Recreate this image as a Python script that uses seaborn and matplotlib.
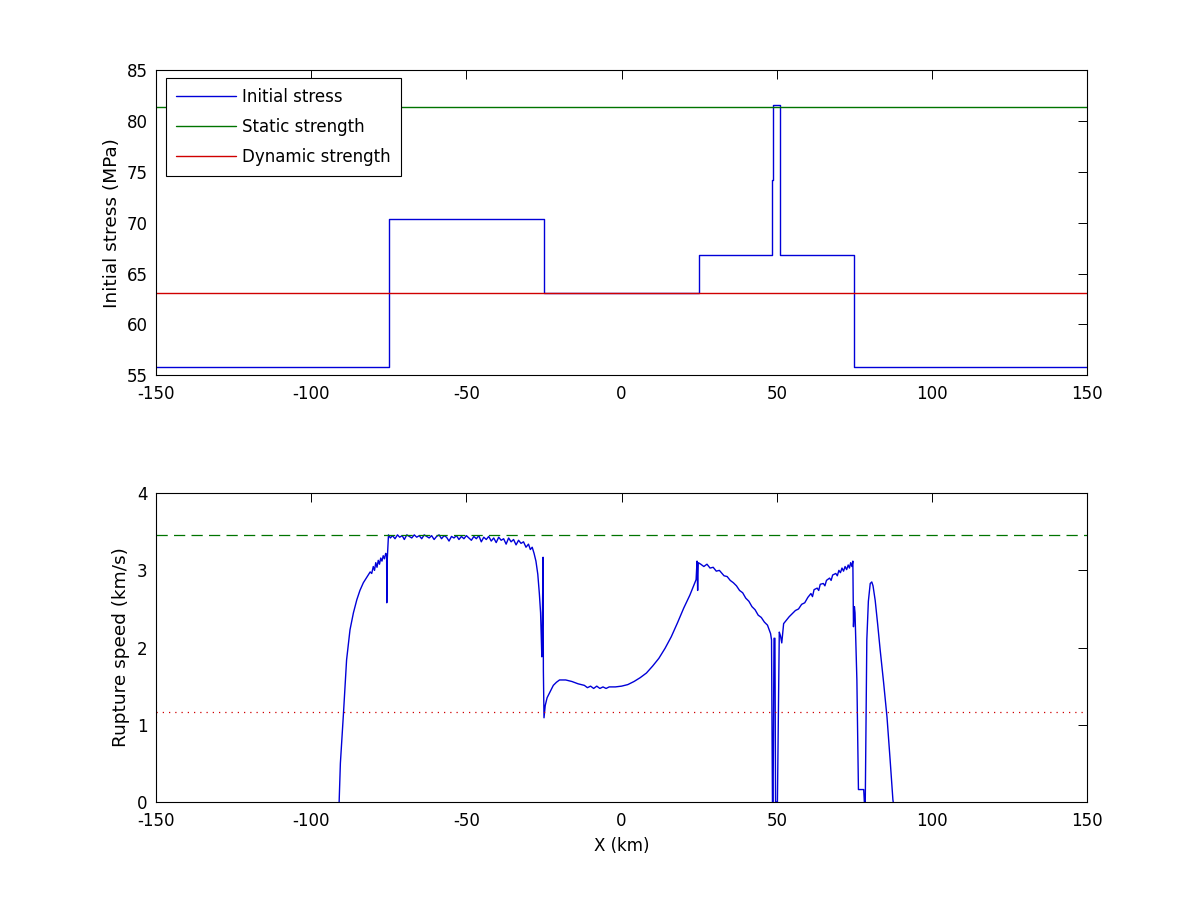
import numpy as np
import pandas as pd
import matplotlib
matplotlib.use("Agg")
import matplotlib.pyplot as plt
import seaborn as sns

# ---------------- data ----------------
# Top panel: initial stress profile along strike (km, MPa)
stress_x = [-150, -75, -75, -25, -25, 25, 25, 48.6, 48.6, 48.9, 48.9, 50.9, 50.9, 75, 75, 150]
stress_y = [55.8, 55.8, 70.4, 70.4, 63.05, 63.05, 66.8, 66.8, 74.2, 74.2, 81.6, 81.6, 66.8, 66.8, 55.8, 55.8]
static_strength = 81.4
dynamic_strength = 63.05
x_limits = [-150, 150]

# Bottom panel: rupture speed (km/s)
speed_x = [-91.0, -90.6, -89.6, -88.6, -87.5, -86.4, -85.3, -84.3, -83.2, -82.1, -81.0,
           -80.5, -80.0, -79.6, -79.2, -78.8, -78.4, -78.0, -77.6, -77.2, -76.8, -76.4, -76.0,
           -75.7, -75.65, -75.55, -75.1,
           -74.5, -73.8, -73.0, -72.2, -71.5, -70.7, -70.0, -69.2, -68.4, -67.6, -66.8, -66.0,
           -65.2, -64.4, -63.6, -62.8, -62.0, -61.2, -60.4, -59.6, -58.8, -58.0, -57.2, -56.4,
           -55.6, -54.8, -54.0, -53.2, -52.4, -51.6, -50.8, -50.0, -49.2, -48.4, -47.6, -46.8,
           -46.0, -45.2, -44.4, -43.6, -42.8, -42.0, -41.2, -40.4, -39.6, -38.8, -38.0, -37.2,
           -36.4, -35.6, -34.8, -34.0, -33.2, -32.4, -31.6, -30.8, -30.0, -29.4, -28.8, -28.2,
           -27.6, -27.0, -26.5, -26.1, -25.8, -25.7, -25.6, -25.3, -25.2, -25.0,
           -24.6, -24.0, -23.0, -22.0, -21.0, -20.0, -18.0, -16.0, -14.0, -12.0, -11.0, -10.0,
           -9.0, -8.0, -7.0, -6.0, -5.0, -4.0, -2.0, 0.0, 2.0, 4.0, 6.0, 8.0, 10.0, 12.0, 14.0,
           16.0, 18.0, 20.0, 22.0, 23.0, 24.0, 24.3, 24.5, 24.7, 25.5, 26.5, 27.5, 28.5, 29.5,
           30.5, 31.5, 33.0, 34.0, 35.0, 36.0, 37.0, 38.0, 39.0, 40.0, 41.0, 42.0, 43.0, 44.0,
           45.0, 46.0, 47.0, 48.0, 48.3, 48.6, 48.8, 49.1, 49.4, 49.6, 50.2, 50.8, 51.2, 51.6,
           52.2, 54.0, 56.0, 57.0, 58.0, 59.0, 60.0, 61.0, 61.5, 62.0, 63.0, 63.5, 64.0, 65.0,
           65.5, 66.0, 67.0, 67.5, 68.0, 69.0, 69.5, 70.0, 70.5, 71.0, 71.5, 72.0, 72.5, 73.0,
           73.4, 73.8, 74.2, 74.5, 74.7, 75.0, 75.2, 75.8, 76.3, 78.0, 78.2, 78.5, 79.0, 79.5,
           80.1, 80.6, 81.0, 81.7, 82.5, 83.3, 84.4, 85.5, 86.5, 87.4, 87.5]
speed_y = [0.0, 0.5, 1.15, 1.84, 2.23, 2.45, 2.62, 2.74, 2.84, 2.91, 2.98,
           2.96, 3.05, 3.00, 3.10, 3.04, 3.13, 3.08, 3.16, 3.12, 3.19, 3.15, 3.22,
           3.20, 2.58, 3.10, 3.46,
           3.42, 3.45, 3.41, 3.46, 3.43, 3.45, 3.40, 3.46, 3.44, 3.42, 3.46, 3.43,
           3.45, 3.41, 3.46, 3.44, 3.42, 3.45, 3.40, 3.44, 3.46, 3.41, 3.45, 3.43,
           3.38, 3.44, 3.42, 3.45, 3.40, 3.44, 3.41, 3.45, 3.42, 3.39, 3.44, 3.41,
           3.45, 3.37, 3.43, 3.40, 3.44, 3.38, 3.42, 3.36, 3.43, 3.39, 3.41, 3.34,
           3.42, 3.37, 3.40, 3.33, 3.39, 3.35, 3.37, 3.30, 3.34, 3.27, 3.30, 3.22,
           3.12, 2.95, 2.70, 2.45, 2.00, 1.88, 2.05, 3.17, 1.70, 1.09,
           1.25, 1.35, 1.43, 1.51, 1.55, 1.58, 1.58, 1.56, 1.53, 1.51, 1.48, 1.50,
           1.47, 1.50, 1.47, 1.49, 1.47, 1.49, 1.49, 1.50, 1.52, 1.56, 1.61, 1.67, 1.76, 1.86, 1.99,
           2.14, 2.32, 2.51, 2.68, 2.78, 2.88, 3.12, 2.74, 3.10, 3.08, 3.05, 3.08, 3.03, 3.04,
           2.99, 3.00, 2.93, 2.92, 2.87, 2.84, 2.80, 2.74, 2.71, 2.64, 2.60, 2.53, 2.49, 2.42,
           2.39, 2.33, 2.29, 2.18, 2.10, 0.0, 0.0, 2.12, 2.12, 0.0, 0.0, 2.20, 2.15, 2.06,
           2.31, 2.40, 2.48, 2.50, 2.56, 2.58, 2.65, 2.70, 2.66, 2.75, 2.77, 2.74, 2.82, 2.83,
           2.80, 2.87, 2.90, 2.87, 2.94, 2.96, 2.93, 3.00, 2.97, 3.03, 2.99, 3.05, 3.01, 3.07,
           3.03, 3.10, 3.05, 3.12, 2.27, 2.53, 2.45, 1.58, 0.16, 0.16, 0.0, 0.0, 2.10, 2.60,
           2.83, 2.85, 2.80, 2.61, 2.30, 1.97, 1.55, 1.10, 0.55, 0.03, 0.0]
shear_wave_speed = 3.46
slow_speed_ref = 1.16

# ---------------- style ----------------
sns.set_style("white")
plt.rcParams["font.family"] = ["DejaVu Sans"]
plt.rcParams.update({
    "axes.unicode_minus": False,
    "xtick.direction": "in", "ytick.direction": "in",
    "xtick.top": True, "ytick.right": True,
    "xtick.major.size": 6.5, "ytick.major.size": 6.5,
    "xtick.major.width": 0.7, "ytick.major.width": 0.7,
    "xtick.major.pad": 7, "ytick.major.pad": 6,
    "axes.edgecolor": "black", "axes.linewidth": 0.8,
    "font.size": 12, "xtick.labelsize": 12, "ytick.labelsize": 12,
    "axes.labelsize": 12,
    "xtick.color": "black", "ytick.color": "black",
    "xtick.labelcolor": "black", "ytick.labelcolor": "black",
    "axes.labelcolor": "black", "text.color": "black",
})

BLUE = "#0000d8"
GREEN = "#007400"
RED = "#d00000"

fig = plt.figure(figsize=(12, 9), dpi=100)
ax1 = fig.add_axes([0.13, 0.583, 0.776, 0.339])
ax2 = fig.add_axes([0.13, 0.109, 0.776, 0.343])

# top panel
top_df = pd.concat([
    pd.DataFrame({"x": stress_x, "y": stress_y, "series": "Initial stress"}),
    pd.DataFrame({"x": x_limits, "y": [static_strength] * 2, "series": "Static strength"}),
    pd.DataFrame({"x": x_limits, "y": [dynamic_strength] * 2, "series": "Dynamic strength"}),
], ignore_index=True)
sns.lineplot(data=top_df, x="x", y="y", hue="series", estimator=None, sort=False,
             palette={"Initial stress": BLUE, "Static strength": GREEN, "Dynamic strength": RED},
             linewidth=1.0, ax=ax1)
ax1.set_xlim(*x_limits)
ax1.set_ylim(55, 85)
ax1.set_yticks([55, 60, 65, 70, 75, 80, 85])
ax1.set_xticks([-150, -100, -50, 0, 50, 100, 150])
ax1.set_xlabel("")
ax1.set_ylabel("Initial stress (MPa)", fontsize=13.3, labelpad=4)
handles, labels = ax1.get_legend_handles_labels()
leg = ax1.legend(handles, labels, loc="upper left", bbox_to_anchor=(0.0107, 0.974),
                 borderaxespad=0, frameon=True, fancybox=False, edgecolor="black",
                 framealpha=1, handlelength=3.6, handletextpad=0.36, labelspacing=0.72,
                 borderpad=0.6, fontsize=12)
leg.get_frame().set_linewidth(0.8)

# bottom panel
bot_df = pd.DataFrame({"x": speed_x, "y": speed_y})
sns.lineplot(data=bot_df, x="x", y="y", estimator=None, sort=False, color=BLUE,
             linewidth=1.0, ax=ax2)
ax2.axhline(shear_wave_speed, color=GREEN, linewidth=0.9, dashes=(9, 5))
ax2.axhline(slow_speed_ref, color=RED, linewidth=0.9, dashes=(1, 4))
ax2.set_xlim(*x_limits)
ax2.set_ylim(0, 4)
ax2.set_yticks([0, 1, 2, 3, 4])
ax2.set_xticks([-150, -100, -50, 0, 50, 100, 150])
ax2.set_xlabel("X (km)", labelpad=5)
ax2.set_ylabel("Rupture speed (km/s)", fontsize=13.3, labelpad=5)

for ax in (ax1, ax2):
    for s in ax.spines.values():
        s.set_visible(True)
        s.set_color("black")

fig.savefig("out.png", dpi=100, facecolor="white")
